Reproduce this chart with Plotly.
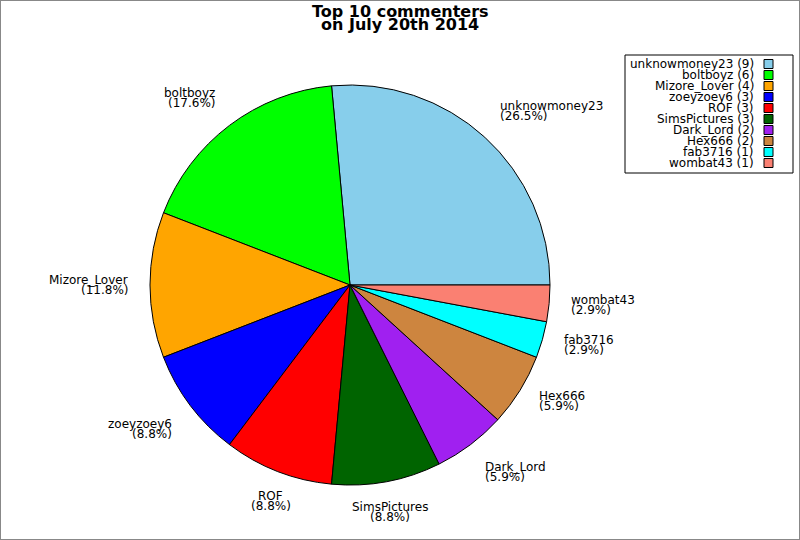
"""
Top 10 commenters pie chart, July 20th 2014.
"""

import math
import plotly.graph_objects as go

commenters = ['unknowmoney23', 'boltboyz', 'Mizore_Lover', 'zoeyzoey6', 'ROF',
              'SimsPictures', 'Dark_Lord', 'Hex666', 'fab3716', 'wombat43']
comment_counts = [9, 6, 4, 3, 3, 3, 2, 2, 1, 1]
slice_colors = ['#87CEEB', '#00FF00', '#FFA500', '#0000FF', '#FF0000',
                '#006400', '#A020F0', '#CD853F', '#00FFFF', '#FA8072']

W, H = 800, 540
# pie centre and radius in pixels
CX, CY, R = 350, 285, 200
FONT = 'DejaVu Sans'
LABEL_SIZE = 12

total = sum(comment_counts)


def px_x(x):
    return x / W


def px_y(y):
    return 1 - y / H


# first slice starts at 3 o'clock and runs counterclockwise
first_angle = 360 * comment_counts[0] / total

fig = go.Figure(go.Pie(
    labels=commenters,
    values=comment_counts,
    sort=False,
    direction='counterclockwise',
    rotation=90 - first_angle,
    marker=dict(colors=slice_colors, line=dict(color='black', width=1)),
    textinfo='none',
    hoverinfo='label+value+percent',
    showlegend=False,
    domain=dict(x=[px_x(CX - R), px_x(CX + R)],
                y=[px_y(CY + R), px_y(CY - R)]),
))

annotations = []

# slice labels: name over percentage, just outside the rim
cum = 0
for name, count in zip(commenters, comment_counts):
    mid = 2 * math.pi * (cum + count / 2) / total
    cum += count
    c, s = math.cos(mid), math.sin(mid)
    ax = CX + 1.1 * R * c
    ay = CY - 1.1 * R * s
    if c > 0.4:
        xanchor = 'left'
    elif c < -0.4:
        xanchor = 'right'
    else:
        xanchor = 'center'
    if s > 0.55:
        y_name, y_pct = ay - 16, ay - 6
    elif s < -0.55:
        y_name, y_pct = ay + 6, ay + 16
    else:
        y_name, y_pct = ay - 5, ay + 5
    pct = f'({100 * count / total:.1f}%)'
    for txt, yy in ((name, y_name), (pct, y_pct)):
        annotations.append(dict(
            text=txt, x=px_x(ax), y=px_y(yy), xref='paper', yref='paper',
            xanchor=xanchor, yanchor='middle', showarrow=False,
            font=dict(family=FONT, size=LABEL_SIZE, color='black')))

# title, two tight lines
for txt, yy in (('Top 10 commenters', 11), ('on July 20th 2014', 25)):
    annotations.append(dict(
        text=f'<b>{txt}</b>', x=0.5, y=px_y(yy), xref='paper', yref='paper',
        xanchor='center', yanchor='middle', showarrow=False,
        font=dict(family=FONT, size=16, color='black')))

shapes = []

# legend box: text right aligned, colour square on the right
shapes.append(dict(type='rect', xref='paper', yref='paper',
                   x0=px_x(625), x1=px_x(793), y0=px_y(55), y1=px_y(173),
                   line=dict(color='black', width=1), fillcolor='white'))
for i, (name, count, col) in enumerate(zip(commenters, comment_counts, slice_colors)):
    yy = 64 + 11 * i
    annotations.append(dict(
        text=f'{name} ({count})', x=px_x(756), y=px_y(yy),
        xref='paper', yref='paper', xanchor='right', yanchor='middle',
        showarrow=False, font=dict(family=FONT, size=LABEL_SIZE, color='black')))
    shapes.append(dict(type='rect', xref='paper', yref='paper',
                       x0=px_x(764), x1=px_x(773), y0=px_y(yy + 4.5), y1=px_y(yy - 4.5),
                       line=dict(color='black', width=1), fillcolor=col))

# grey frame round the whole picture
shapes.append(dict(type='rect', xref='paper', yref='paper', x0=0, x1=1, y0=0, y1=1,
                   line=dict(color='#888888', width=2)))

fig.update_layout(
    width=W, height=H,
    margin=dict(l=0, r=0, t=0, b=0),
    paper_bgcolor='white',
    plot_bgcolor='white',
    annotations=annotations,
    shapes=shapes,
)

# page body has a default margin, drop it so the chart sits at the corner
fig.write_html('out.html',
               config={'displayModeBar': False},
               post_script="document.body.style.margin='0';"
                           "document.body.style.overflow='hidden';")
